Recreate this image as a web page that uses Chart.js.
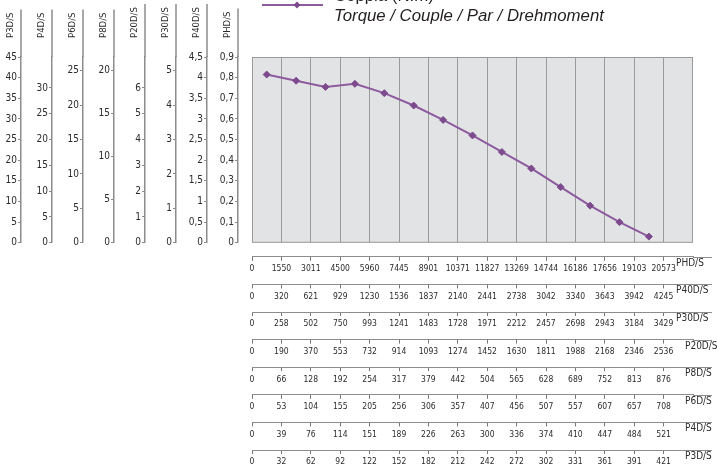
<!DOCTYPE html>
<html>
<head>
<meta charset="utf-8">
<script src="https://cdn.jsdelivr.net/npm/chart.js@4.4.0/dist/chart.umd.min.js"></script>
<style>
  html, body { margin: 0; padding: 0; background: #fff; }
</style>
</head>
<body>
<canvas id="torqueChart" width="717" height="475"></canvas>
<script>
// Torque (N.m) on the PHD/S shaft, one value per speed column
const torque = [0.815, 0.785, 0.755, 0.77, 0.725, 0.665, 0.595, 0.52, 0.44, 0.36, 0.27, 0.18, 0.1, 0.03];

// model names, nearest the chart first
const models = ['PHD/S', 'P40D/S', 'P30D/S', 'P20D/S', 'P8D/S', 'P6D/S', 'P4D/S', 'P3D/S'];

// speed rows under the chart (rpm)
const speedPHD  = [0, 1550, 3011, 4500, 5960, 7445, 8901, 10371, 11827, 13269, 14744, 16186, 17656, 19103, 20573];
const speedP40D = [0, 320, 621, 929, 1230, 1536, 1837, 2140, 2441, 2738, 3042, 3340, 3643, 3942, 4245];
const speedP30D = [0, 258, 502, 750, 993, 1241, 1483, 1728, 1971, 2212, 2457, 2698, 2943, 3184, 3429];
const speedP20D = [0, 190, 370, 553, 732, 914, 1093, 1274, 1452, 1630, 1811, 1988, 2168, 2346, 2536];
const speedP8D  = [0, 66, 128, 192, 254, 317, 379, 442, 504, 565, 628, 689, 752, 813, 876];
const speedP6D  = [0, 53, 104, 155, 205, 256, 306, 357, 407, 456, 507, 557, 607, 657, 708];
const speedP4D  = [0, 39, 76, 114, 151, 189, 226, 263, 300, 336, 374, 410, 447, 484, 521];
const speedP3D  = [0, 32, 62, 92, 122, 152, 182, 212, 242, 272, 302, 331, 361, 391, 421];
const speedRows = [speedPHD, speedP40D, speedP30D, speedP20D, speedP8D, speedP6D, speedP4D, speedP3D];

// left torque axes: value at top of plot, last labelled tick, tick step
const yMax  = [0.9, 4.5, 5.4, 7.2, 21.6, 27, 36, 45];
const yTop  = [0.9, 4.5, 5, 7, 20, 25, 35, 45];
const yStep = [0.1, 0.5, 1, 1, 5, 5, 5, 5];

const narrow = "'Liberation Sans Narrow', 'DejaVu Sans Condensed', sans-serif";
const axisGrey = '#8c8c8c';
const textColor = '#2b2b2b';
const purple = '#8e5a9f';

const fmt = v => String(Math.round(v * 100) / 100).replace('.', ',');

// empty boxes that make the gaps between plot and axes
const scales = {
  ygap: {
    axis: 'y', type: 'linear', position: 'left', weight: 0,
    ticks: { display: false }, grid: { display: false }, border: { display: false },
    afterFit: s => { s.width = 14; }
  },
  xgap: {
    axis: 'x', type: 'linear', position: 'bottom', weight: 0,
    ticks: { display: false }, grid: { display: false }, border: { display: false },
    afterFit: s => { s.height = 14; }
  }
};

models.forEach((m, i) => {
  const last = i === models.length - 1;
  scales['y' + i] = {
    axis: 'y', type: 'linear', position: 'left', weight: i + 1,
    min: 0, max: yMax[i],
    ticks: {
      stepSize: yStep[i], autoSkip: false, padding: 1, color: textColor,
      font: { family: narrow, size: 10 },
      callback: v => fmt(v)
    },
    afterBuildTicks: s => { s.ticks = s.ticks.filter(t => t.value <= yTop[i] + 1e-9); },
    grid: { drawOnChartArea: false, tickLength: 3, color: axisGrey },
    border: { color: axisGrey, width: 1.5 },
    afterFit: s => { s.width = last ? 21 : 31; }
  };
  scales['x' + i] = {
    axis: 'x', type: 'linear', position: 'bottom', weight: i + 1,
    min: 0, max: 15,
    ticks: {
      stepSize: 1, autoSkip: false, maxRotation: 0, padding: 3, color: textColor,
      font: { family: narrow, size: 8.5 },
      callback: v => speedRows[i][v]
    },
    afterBuildTicks: s => { s.ticks = s.ticks.filter(t => t.value <= 14); },
    grid: { drawOnChartArea: i === 0, color: '#9a9a9a', tickColor: '#777', tickLength: 4 },
    border: { color: axisGrey, width: 1 },
    afterFit: s => { s.height = last ? 25 : 27.6; }
  };
});

// grey plot background and frame
const plotFrame = {
  id: 'plotFrame',
  beforeDraw(chart) {
    const { ctx, chartArea: a } = chart;
    ctx.save();
    ctx.fillStyle = '#e2e3e4';
    ctx.fillRect(a.left, a.top, a.right - a.left, a.bottom - a.top);
    ctx.restore();
  },
  afterDraw(chart) {
    const { ctx, chartArea: a } = chart;
    ctx.save();
    ctx.strokeStyle = '#9a9a9a';
    ctx.lineWidth = 1;
    ctx.strokeRect(a.left + 0.5, a.top + 0.5, a.right - a.left - 1, a.bottom - a.top - 1);

    // axis titles and the bits of axis line outside the plot
    models.forEach((m, i) => {
      const ys = chart.scales['y' + i];
      ctx.font = '9.5px ' + narrow;
      const w = ctx.measureText(m).width;
      const x = ys.right;
      ctx.strokeStyle = axisGrey;
      ctx.lineWidth = 1.5;
      ctx.beginPath();
      ctx.moveTo(x, ys.top);
      ctx.lineTo(x, 38 - w - 3);
      ctx.stroke();
      ctx.save();
      ctx.translate(x - 10, 38);
      ctx.rotate(-Math.PI / 2);
      ctx.fillStyle = textColor;
      ctx.textAlign = 'left';
      ctx.textBaseline = 'middle';
      ctx.fillText(m, 0, 0);
      ctx.restore();

      const xs = chart.scales['x' + i];
      const y = Math.round(xs.top) + 0.5;
      ctx.lineWidth = 1;
      ctx.beginPath();
      ctx.moveTo(a.right, y);
      ctx.lineTo(712, y);
      ctx.stroke();
      ctx.fillStyle = textColor;
      ctx.textAlign = 'left';
      ctx.textBaseline = 'middle';
      ctx.font = '10px ' + narrow;
      ctx.fillText(m, i < 3 ? 676 : 685, y + 6);
    });

    // legend
    ctx.strokeStyle = purple;
    ctx.lineWidth = 2;
    ctx.beginPath();
    ctx.moveTo(262, 5);
    ctx.lineTo(323, 5);
    ctx.stroke();
    ctx.fillStyle = '#7d4a8e';
    ctx.beginPath();
    ctx.moveTo(297, 1.5); ctx.lineTo(300.5, 5); ctx.lineTo(297, 8.5); ctx.lineTo(293.5, 5);
    ctx.closePath();
    ctx.fill();

    ctx.fillStyle = '#231f20';
    ctx.textAlign = 'left';
    ctx.textBaseline = 'alphabetic';
    ctx.font = 'italic 17px "Liberation Sans", sans-serif';
    const label = 'Torque / Couple / Par / Drehmoment';
    const size = 17 * 270 / ctx.measureText(label).width;
    ctx.font = 'italic ' + size.toFixed(1) + 'px "Liberation Sans", sans-serif';
    ctx.fillText(label, 334, 21);
    ctx.font = size.toFixed(1) + 'px "Liberation Sans", sans-serif';
    ctx.fillText('Coppia (N.m)', 334, 1);
    ctx.restore();
  }
};

new Chart(document.getElementById('torqueChart'), {
  type: 'line',
  data: {
    datasets: [{
      label: 'Torque',
      data: torque.map((v, i) => ({ x: i + 0.5, y: v })),
      xAxisID: 'x0',
      yAxisID: 'y0',
      borderColor: purple,
      borderWidth: 2,
      pointStyle: 'rectRot',
      pointRadius: 3.5,
      pointBackgroundColor: '#7d4a8e',
      pointBorderColor: '#7d4a8e',
      pointBorderWidth: 1,
      tension: 0,
      fill: false
    }]
  },
  options: {
    responsive: false,
    devicePixelRatio: 1,
    animation: false,
    layout: { padding: { top: 57, right: 24, left: 0, bottom: 0 } },
    plugins: { legend: { display: false }, tooltip: { enabled: false } },
    scales: scales
  },
  plugins: [plotFrame]
});
</script>
</body>
</html>
